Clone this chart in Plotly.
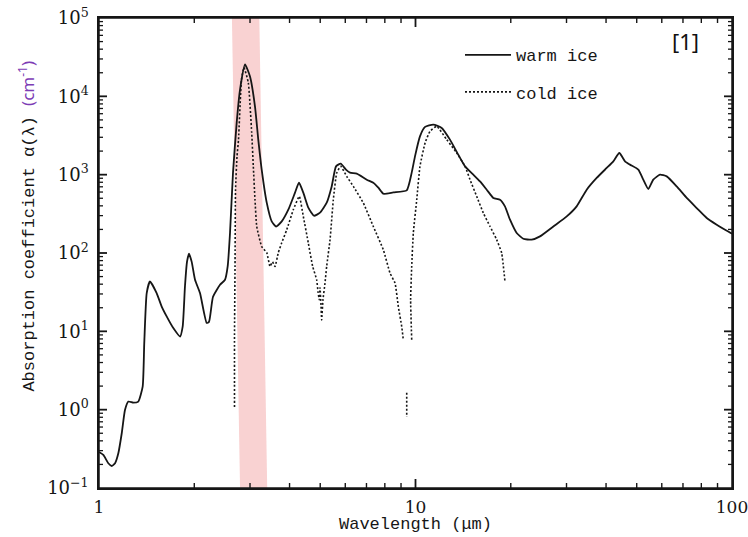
import plotly.graph_objects as go

# Absorption coefficient of water ice, alpha(lambda) in cm^-1, vs wavelength in micrometres
warm_wavelength = [
    1.000, 1.032, 1.070, 1.097, 1.124, 1.151, 1.180, 1.208, 1.238, 1.284, 1.331, 1.374,
    1.390, 1.415, 1.449, 1.521, 1.578, 1.636, 1.717, 1.803, 1.838, 1.869, 1.897, 1.925,
    1.963, 2.011, 2.085, 2.189, 2.226, 2.292, 2.412, 2.501, 2.550, 2.594, 2.651, 2.723,
    2.790, 2.893, 3.000, 3.111, 3.186, 3.266, 3.388, 3.513, 3.625, 3.779, 3.964, 4.162,
    4.284, 4.421, 4.585, 4.779, 4.992, 5.242, 5.435, 5.609, 5.803, 6.030, 6.209, 6.520,
    7.014, 7.358, 7.630, 7.913, 8.509, 9.381, 9.727, 9.963, 10.33, 10.72, 11.38, 12.10,
    12.85, 13.65, 14.34, 15.23, 15.99, 16.79, 17.62, 18.49, 19.17, 19.89, 20.88, 21.91,
    23.28, 24.74, 27.26, 30.05, 32.30, 34.75, 37.36, 40.19, 42.17, 44.06, 45.92, 47.61,
    50.58, 52.45, 54.39, 56.40, 59.22, 62.19, 66.88, 71.93, 77.35, 83.20, 89.45, 95.07,
    100.0,
]
warm_alpha = [
    0.288, 0.264, 0.207, 0.191, 0.207, 0.277, 0.50, 0.99, 1.27, 1.23, 1.27, 1.97,
    7.07, 30.8, 43.3, 30.8, 20.7, 15.5, 11.0, 8.59, 11.5, 37.4, 77.3, 97.8,
    77.0, 45.5, 30.8, 12.8, 13.2, 27.6, 39.3, 45.5, 67.3, 181, 1061, 4620,
    12200, 25500, 17900, 7400, 2800, 1160, 439, 253, 218, 253, 357, 589,
    790, 589, 379, 299, 327, 439, 708, 1277, 1383, 1160, 1061, 1030,
    863, 790, 682, 572, 594, 630, 1061, 1714, 3085, 4070, 4355, 3950,
    2800, 1800, 1277, 1000, 820, 643, 504, 479, 394, 266, 180, 152,
    148, 163, 218, 293, 394, 643, 908, 1218, 1479, 1890, 1479, 1343,
    1160, 863, 656, 863, 1000, 951, 708, 504, 375, 280, 230, 198,
    176,
]

# Cold ice: None entries break the dotted curve where it leaves the plotted range
cold_wavelength = [
    2.680, 2.680, 2.690, 2.700, 2.729, 2.759, 2.820, 2.872, 2.963, 3.037, 3.073, 3.111,
    3.150, 3.266, 3.388, 3.470, 3.533, 3.598, 3.686, 3.779, 3.919, 4.111, 4.295, 4.421,
    4.585, 4.733, 4.873, 4.920, 4.967, 4.992, 5.028, 5.053, 5.101, 5.177, 5.240, 5.370,
    5.500, 5.637, 5.803, 6.062, 6.363, 6.842, 7.358, 7.913, 8.308, 8.616, 8.826, 9.047,
    9.150, None, 9.381, 9.381, None, 9.727, 9.651, 9.727, 9.842, 10.09, 10.33, 10.72,
    11.11, 11.67, 12.55, 13.50, 14.34, 14.87, 15.61, 16.38, 17.20, 18.05, 18.72, 19.17,
]
cold_alpha = [
    1.08, 8.5, 66.7, 643, 1700, 2800, 16400, 23300, 15000, 3440, 1277, 479,
    218, 121, 101, 67.3, 77.0, 67.3, 101, 135, 198, 357, 528, 293,
    134, 67.3, 45.5, 32.0, 25.3, 36.0, 21.8, 14.0, 25.3, 41.3, 67.3, 148,
    479, 1051, 1277, 951, 708, 435, 218, 110, 55.4, 41.3, 20.7, 11.5,
    7.79, None, 1.64, 0.807, None, 7.79, 25.3, 67.3, 180, 479, 1277, 2540,
    3575, 4140, 2800, 1890, 1277, 863, 528, 324, 218, 148, 99.8, 43.3,
]

# Highlighted 3 um band (wavelength edges at the top and bottom of the frame)
band_top = [2.63, 3.21]
band_bottom = [2.79, 3.40]

x_ticks = [1, 10, 100]
x_tick_text = ["1", "10", "100"]
y_ticks = [1e-1, 1e0, 1e1, 1e2, 1e3, 1e4, 1e5]
y_tick_text = ["10<sup>−1</sup>", "10<sup>0</sup>", "10<sup>1</sup>", "10<sup>2</sup>",
               "10<sup>3</sup>", "10<sup>4</sup>", "10<sup>5</sup>"]

# Minor log ticks at 2..9 times each decade
x_minor = [m * 10 ** d for d in range(0, 2) for m in range(2, 10)]
y_minor = [m * 10.0 ** d for d in range(-1, 5) for m in range(2, 10)]

INK = "#161616"
MONO = "Liberation Mono"
SERIF = "DejaVu Serif"
X_RANGE = [0, 2]
Y_RANGE = [-1, 5]

W, H = 748, 537
MARGIN = dict(l=99, r=16, t=18, b=49)
PLOT_W = W - MARGIN["l"] - MARGIN["r"]
PLOT_H = H - MARGIN["t"] - MARGIN["b"]

fig = go.Figure()
fig.add_trace(go.Scatter(
    x=warm_wavelength, y=warm_alpha, mode="lines", name="warm ice",
    line=dict(color=INK, width=1.8, shape="spline", smoothing=0.5), legendgroup="warm",
))
fig.add_trace(go.Scatter(
    x=cold_wavelength, y=cold_alpha, mode="lines", name="cold ice",
    line=dict(color=INK, width=1.6, dash="2px,2px", shape="spline", smoothing=0.4),
    connectgaps=False, legendgroup="cold",
))

fig.add_shape(
    type="path", xref="x", yref="paper", layer="below", line_width=0,
    fillcolor="#f9d2d2",
    path=(f"M {band_bottom[0]},0 L {band_top[0]},1 L {band_top[1]},1 "
          f"L {band_bottom[1]},0 Z"),
)
# Frame around the plotting area
fig.add_shape(type="rect", xref="paper", yref="paper", x0=0, y0=0, x1=1, y1=1,
              line=dict(color=INK, width=1.5), fillcolor="rgba(0,0,0,0)", layer="above")


def inward_ticks(values, axis, length_px, width):
    """Short tick strokes pointing into the frame on both opposite sides."""
    tick = dict(color=INK, width=width)
    for v in values:
        if axis == "x":
            dy = length_px / PLOT_H
            fig.add_shape(type="line", xref="x", yref="paper", x0=v, x1=v, y0=0, y1=dy,
                          line=tick, layer="above")
            fig.add_shape(type="line", xref="x", yref="paper", x0=v, x1=v, y0=1, y1=1 - dy,
                          line=tick, layer="above")
        else:
            dx = length_px / PLOT_W
            fig.add_shape(type="line", xref="paper", yref="y", y0=v, y1=v, x0=0, x1=dx,
                          line=tick, layer="above")
            fig.add_shape(type="line", xref="paper", yref="y", y0=v, y1=v, x0=1, x1=1 - dx,
                          line=tick, layer="above")


inward_ticks(x_ticks[1:-1], "x", 9, 1.8)
inward_ticks(x_minor, "x", 5, 1.4)
inward_ticks(y_ticks[1:-1], "y", 8, 1.8)
inward_ticks(y_minor, "y", 4, 1.3)

axis_common = dict(
    type="log", showline=True, linecolor=INK, linewidth=1.5, mirror=True,
    ticks="", showgrid=False, zeroline=False, automargin=False,
)
fig.update_xaxes(
    **axis_common, range=X_RANGE, tickmode="array", tickvals=x_ticks, ticktext=x_tick_text,
    ticklabelstandoff=3, ticklabeloverflow="allow",
    tickfont=dict(family=SERIF, size=17, color=INK),
)
fig.update_yaxes(
    **axis_common, range=Y_RANGE, tickmode="array", tickvals=y_ticks, ticktext=y_tick_text,
    ticklabelstandoff=5, ticklabeloverflow="allow",
    tickfont=dict(family=SERIF, size=18, color=INK),
)

fig.add_annotation(
    xref="paper", yref="paper", x=0.5, y=-0.0775, xanchor="center", yanchor="middle",
    showarrow=False, text="Wavelength (μm)",
    font=dict(family=MONO, size=17, color=INK),
)
fig.add_annotation(
    xref="paper", yref="paper", x=-0.114, y=0.558, xanchor="center", yanchor="middle",
    textangle=-90, showarrow=False,
    text=('Absorption coefficient α(λ) '
          '<span style="color:#7d3cb5;font-family:Noto Sans">(cm<sup>-1</sup>)</span>'),
    font=dict(family=MONO, size=17, color=INK),
)
fig.add_annotation(
    xref="paper", yref="paper", x=0.951, y=0.951, xanchor="right", yanchor="middle",
    showarrow=False, text="[1]", font=dict(family="Noto Sans", size=22, color="#111"),
)

fig.update_layout(
    template="none",
    width=W, height=H,
    margin=dict(**MARGIN, autoexpand=False),
    paper_bgcolor="white", plot_bgcolor="rgba(0,0,0,0)",
    showlegend=True,
    legend=dict(
        x=0.5703, y=0.959, xanchor="left", yanchor="top",
        bgcolor="rgba(0,0,0,0)", borderwidth=0,
        font=dict(family=MONO, size=17, color=INK),
        traceorder="grouped", tracegroupgap=12, itemwidth=46,
    ),
)

fig.write_html("out.html")
